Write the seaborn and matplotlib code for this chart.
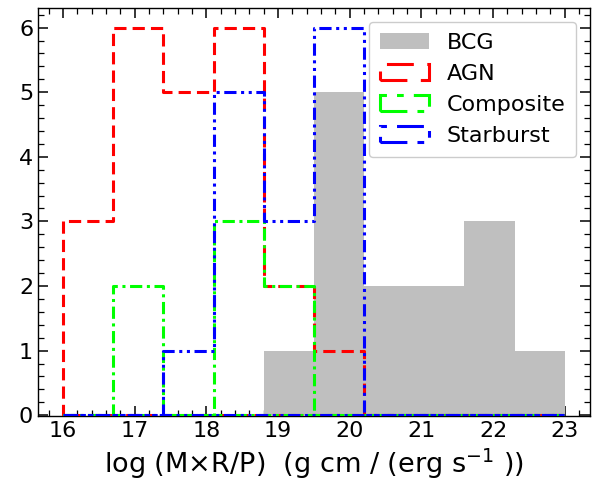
import numpy as np
import matplotlib
matplotlib.use("Agg")
import matplotlib.pyplot as plt
import seaborn as sns
from matplotlib.ticker import MultipleLocator

# Bin edges and counts
bin_edges = [16.0, 16.7, 17.4, 18.1, 18.8, 19.5, 20.2, 20.9, 21.6, 22.3, 23.0]
bcg_counts = [0, 0, 0, 0, 1, 5, 2, 2, 3, 1]
agn_counts = [3, 6, 5, 6, 2, 1, 0, 0, 0, 0]
composite_counts = [0, 2, 0, 3, 2, 0, 0, 0, 0, 0]
starburst_counts = [0, 0, 1, 5, 3, 6, 0, 0, 0, 0]

centers = [(a + b) / 2 for a, b in zip(bin_edges[:-1], bin_edges[1:])]

sns.set_style("white")
plt.rcParams['font.family'] = ['DejaVu Sans']
plt.rcParams['text.color'] = 'black'
plt.rcParams['axes.labelcolor'] = 'black'
plt.rcParams['xtick.color'] = 'black'
plt.rcParams['ytick.color'] = 'black'

fig = plt.figure(figsize=(6.08, 4.83), dpi=100)
ax = fig.add_axes([0.0625, 0.139, 0.9075, 0.844])

sns.histplot(x=centers, weights=bcg_counts, bins=bin_edges, ax=ax,
             element="bars", color="#bfbfbf", alpha=1.0, linewidth=0,
             label="BCG")

specs = [
    (agn_counts, "red", (0, (4, 2)), "AGN"),
    (composite_counts, "lime", (0, (4, 1.5, 1, 1.5)), "Composite"),
    (starburst_counts, "blue", (0, (4, 1.5, 1, 1.5, 1, 1.5)), "Starburst"),
]
for counts, col, ls, lab in specs:
    sns.histplot(x=centers, weights=counts, bins=bin_edges, ax=ax,
                 element="step", fill=True, color=col, facecolor="none",
                 edgecolor=col, linestyle=ls, linewidth=2.2, label=lab,
                 zorder=3)

ax.set_xlim(15.65, 23.35)
ax.set_ylim(-0.01, 6.3)
ax.xaxis.set_major_locator(MultipleLocator(1))
ax.xaxis.set_minor_locator(MultipleLocator(0.2))
ax.yaxis.set_major_locator(MultipleLocator(1))
ax.yaxis.set_minor_locator(MultipleLocator(0.2))
ax.tick_params(which="both", direction="in", top=True, right=True,
               bottom=True, left=True, labelsize=16)
ax.tick_params(which="major", length=7, width=1.1)
ax.tick_params(which="minor", length=4, width=0.9)
for s in ax.spines.values():
    s.set_color("black")
    s.set_linewidth(1.0)

ax.set_ylabel("")
ax.set_xlabel(r"log (M$\times$R/P)  (g cm / (erg s$^{-1}$ ))", fontsize=19.5)

handles, labels = ax.get_legend_handles_labels()
order = ["BCG", "AGN", "Composite", "Starburst"]
hmap = dict(zip(labels, handles))
ax.legend([hmap[k] for k in order], order, loc="upper right", fontsize=16,
          handlelength=2.2, framealpha=1, borderpad=0.5,
          borderaxespad=0.6)

fig.savefig("out.png", dpi=100)
